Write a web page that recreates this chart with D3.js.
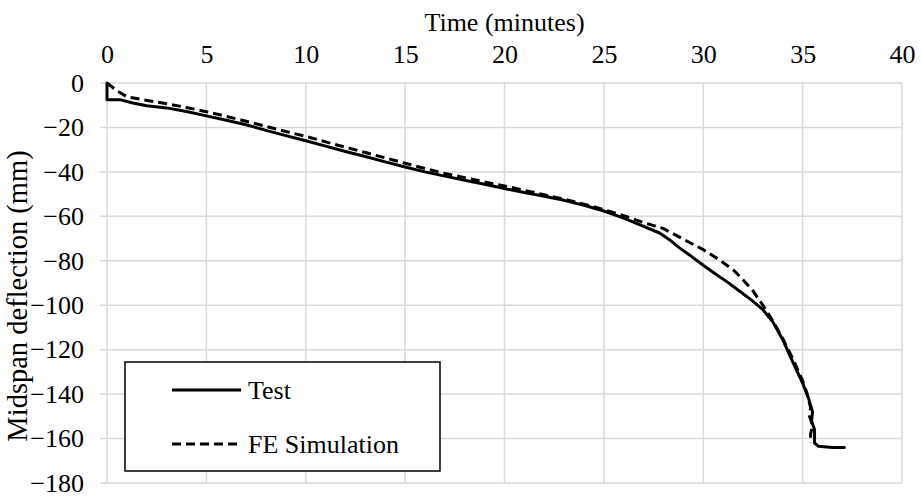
<!DOCTYPE html>
<html>
<head>
<meta charset="utf-8">
<script src="https://cdn.jsdelivr.net/npm/d3@7"></script>
<style>
  html, body { margin: 0; padding: 0; background: #fff; }
</style>
</head>
<body>
<svg id="chart" width="921" height="500"></svg>
<script>
// Midspan deflection vs. fire exposure time: test record and FE simulation
const seriesNames = ["Test", "FE Simulation"];

const testTime = [0, 0, 0.65, 1.3, 2, 3, 4, 5, 6, 7, 8, 9, 10, 11, 12, 13, 14, 15, 16, 17, 18, 19, 20,
  21, 22, 23, 24, 25, 26, 27, 27.8, 28.3, 28.8, 29.4, 30, 30.6, 31.2, 31.8, 32.4, 33, 33.5, 34, 34.5,
  35, 35.3, 35.5, 35.45, 35.6, 35.6, 35.8, 36.5, 37.1];
const testDefl = [0, -7.5, -7.5, -9, -10.2, -11.2, -12.8, -14.8, -16.8, -18.8, -21.3, -23.7, -26, -28.4,
  -30.8, -33.1, -35.5, -37.8, -40, -41.9, -43.8, -45.6, -47.5, -49.3, -51, -52.8, -55, -57.6, -60.8,
  -64.5, -67.5, -70.5, -74.2, -78, -82, -85.8, -89.5, -93.5, -97.5, -102, -107.5, -115.5, -125.5,
  -135, -142, -148, -152, -156, -162, -163.5, -164, -164];

const feTime = [0, 0.5, 1, 1.8, 3, 4, 5, 6, 7, 8, 9, 10, 11, 12, 13, 14, 15, 16, 17, 18, 19, 20, 21, 22,
  23, 24, 25, 26, 27, 28, 29, 30, 30.8, 31.5, 32, 32.5, 33, 33.5, 34, 34.5, 35, 35.2, 35.4, 35.35,
  35.5, 35.4, 35.4];
const feDefl = [0, -3.5, -6.2, -7.5, -9.3, -11, -12.9, -15, -17.2, -19.5, -21.8, -24, -26.5, -28.9,
  -31.3, -33.7, -36.1, -38.5, -40.7, -42.6, -44.5, -46.3, -48.3, -50.3, -52.3, -54.5, -57, -59.7,
  -62.8, -65.5, -70.3, -75, -79.5, -84, -88.5, -93.5, -100, -107, -115, -124, -134, -139, -146,
  -150, -154, -158, -162];

const xTicks = [0, 5, 10, 15, 20, 25, 30, 35, 40];
const yTicks = [0, -20, -40, -60, -80, -100, -120, -140, -160, -180];

const FONT = "'Liberation Serif', 'Times New Roman', Tinos, serif";
const svg = d3.select("#chart");
const plot = { left: 107, right: 902, top: 83, bottom: 483 };

const x = d3.scaleLinear().domain([0, 40]).range([plot.left, plot.right]);
const y = d3.scaleLinear().domain([0, -180]).range([plot.top, plot.bottom]);

const gridColor = "#d9d9d9";
const fontSize = 26;

// Gridlines (horizontal ones run a little past the left edge as tick marks)
const grid = svg.append("g");
grid.selectAll("line.v").data(xTicks).join("line")
  .attr("class", "v")
  .attr("x1", d => x(d)).attr("x2", d => x(d))
  .attr("y1", plot.top).attr("y2", plot.bottom)
  .attr("stroke", gridColor).attr("stroke-width", 1.5);
grid.selectAll("line.h").data(yTicks).join("line")
  .attr("class", "h")
  .attr("x1", plot.left - 7).attr("x2", plot.right)
  .attr("y1", d => y(d)).attr("y2", d => y(d))
  .attr("stroke", gridColor).attr("stroke-width", 1.5);

// Top x axis labels
const xAxis = d3.axisTop(x).tickValues(xTicks).tickSize(0).tickPadding(0);
const gx = svg.append("g").attr("transform", "translate(0,63)").call(xAxis);
gx.select(".domain").remove();
gx.selectAll("text")
  .style("font-family", FONT).style("font-size", fontSize + "px")
  .attr("fill", "#000").attr("dy", 0);
// keep the last label inside the canvas
gx.selectAll(".tick").filter(d => d === 40).select("text")
  .attr("text-anchor", "end").attr("x", 13);

// Left y axis labels
const yAxis = d3.axisLeft(y).tickValues(yTicks).tickSize(0).tickPadding(0).tickFormat(d3.format("d"));
const gy = svg.append("g").attr("transform", "translate(84,0)").call(yAxis);
gy.select(".domain").remove();
gy.selectAll("text")
  .style("font-family", FONT).style("font-size", fontSize + "px")
  .attr("fill", "#000");

// Axis titles
svg.append("text")
  .attr("x", (plot.left + plot.right) / 2).attr("y", 31)
  .attr("text-anchor", "middle")
  .style("font-family", FONT).style("font-size", fontSize + "px")
  .text("Time (minutes)");
svg.append("text")
  .attr("transform", "translate(27,296) rotate(-90)")
  .attr("text-anchor", "middle")
  .style("font-family", FONT).style("font-size", "28.5px")
  .text("Midspan deflection (mm)");

// Series lines
const line = d3.line().x(d => x(d[0])).y(d => y(d[1]));
const testPts = testTime.map((t, i) => [t, testDefl[i]]);
const fePts = feTime.map((t, i) => [t, feDefl[i]]);

svg.append("path").datum(testPts)
  .attr("d", line).attr("fill", "none").attr("stroke", "#000")
  .attr("stroke-width", 3).attr("stroke-linejoin", "round").attr("stroke-linecap", "round");
svg.append("path").datum(fePts)
  .attr("d", line).attr("fill", "none").attr("stroke", "#000")
  .attr("stroke-width", 3).attr("stroke-dasharray", "9,5");

// Legend
const legend = svg.append("g");
legend.append("rect")
  .attr("x", 125).attr("y", 362).attr("width", 315).attr("height", 109)
  .attr("fill", "#fff").attr("stroke", "#000").attr("stroke-width", 1.5);
const legendRows = [
  { name: seriesNames[0], dash: null, yy: 390 },
  { name: seriesNames[1], dash: "9,5", yy: 444 }
];
legendRows.forEach(r => {
  legend.append("line")
    .attr("x1", 172).attr("x2", 241).attr("y1", r.yy).attr("y2", r.yy)
    .attr("stroke", "#000").attr("stroke-width", 3)
    .attr("stroke-dasharray", r.dash);
  legend.append("text")
    .attr("x", 248).attr("y", r.yy).attr("dy", "0.33em")
    .style("font-family", FONT).style("font-size", fontSize + "px")
    .text(r.name);
});
</script>
</body>
</html>
